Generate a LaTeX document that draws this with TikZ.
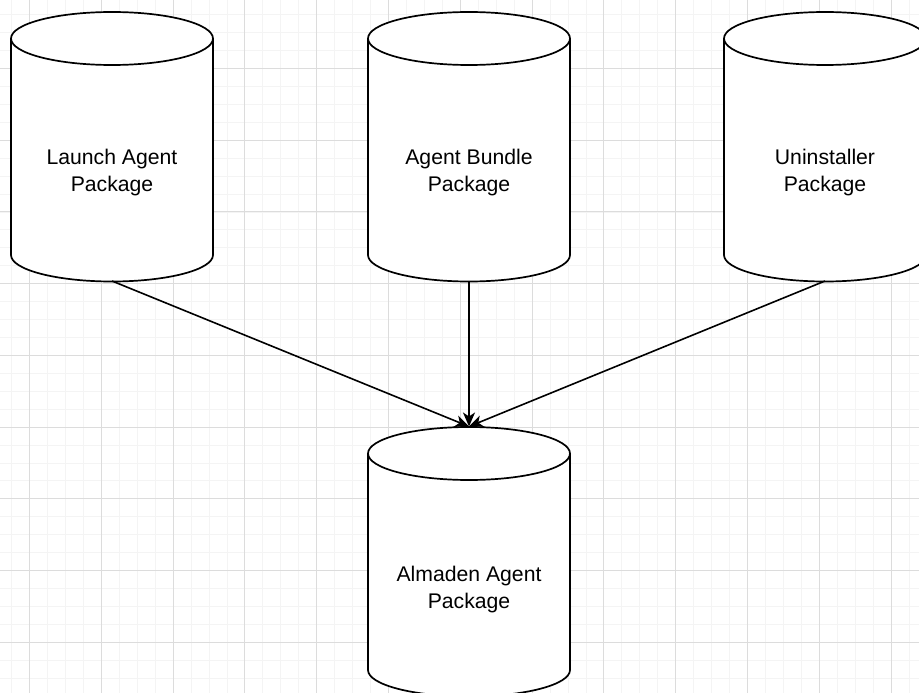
\documentclass[tikz,border=0pt]{standalone}
\usepackage{fontspec}
\setmainfont{Liberation Sans}
\usetikzlibrary{arrows.meta}
\definecolor{gridminor}{RGB}{244,244,244}
\definecolor{gridmajor}{RGB}{220,220,220}
\tikzset{
  cylline/.style={line width=1.7pt, draw=black, fill=white},
  lbl/.style={align=center, font=\fontsize{21.2}{27}\selectfont, inner sep=0pt},
  arr/.style={line width=1.6pt, -{Stealth[length=14pt, width=12pt, inset=4pt]}},
}
\newcommand\mycyl[2]{% center x, top-ellipse center y
  \path[cylline] (#1-101,#2) -- (#1-101,#2+216.5)
     arc[start angle=180, end angle=0, x radius=101, y radius=26.5]
     -- (#1+101,#2) arc[start angle=0, end angle=-180, x radius=101, y radius=26.5] -- cycle;
  \draw[line width=1.7pt] (#1-101,#2) arc[start angle=180, end angle=0, x radius=101, y radius=26.5];
}
\begin{document}
\begin{tikzpicture}[x=1pt, y=-1pt]
\useasboundingbox (0,0) rectangle (919,693);
\clip (0,0) rectangle (919,693);
\fill[white] (0,0) rectangle (919,693);
% grid
\foreach \j in {-1,...,52} {
  \draw[gridminor, line width=0.9pt] (11.55+17.95*\j,0) -- (11.55+17.95*\j,693);
  \draw[gridminor, line width=0.9pt] (0,14.75+17.93*\j) -- (919,14.75+17.93*\j);
}
\foreach \k in {0,...,12} {
  \draw[gridmajor, line width=1pt] (29.5+71.8*\k,0) -- (29.5+71.8*\k,693);
}
\foreach \k in {-1,...,9} {
  \draw[gridmajor, line width=1pt] (0,68.5+71.7*\k) -- (919,68.5+71.7*\k);
}
% cylinders
\mycyl{112}{38.5}
\mycyl{469}{38.5}
\mycyl{825}{38.5}
\mycyl{469}{453.5}
% labels
\node[lbl] (launch) at (112,172.5) {Launch Agent\\Package};
\node[lbl] (bundle) at (469,172.5) {Agent Bundle\\Package};
\node[lbl] (uninst) at (825,172.5) {Uninstaller\\Package};
\node[lbl] (almaden) at (469,590) {Almaden Agent\\Package};
% connector ends
\coordinate (launchB) at (112,281);
\coordinate (bundleB) at (469,281);
\coordinate (uninstB) at (825,281);
\coordinate (almT) at (469,426.5);
\draw[arr] (launchB) -- (almT);
\draw[arr] (bundleB) -- (almT);
\draw[arr] (uninstB) -- (almT);
\end{tikzpicture}
\end{document}
